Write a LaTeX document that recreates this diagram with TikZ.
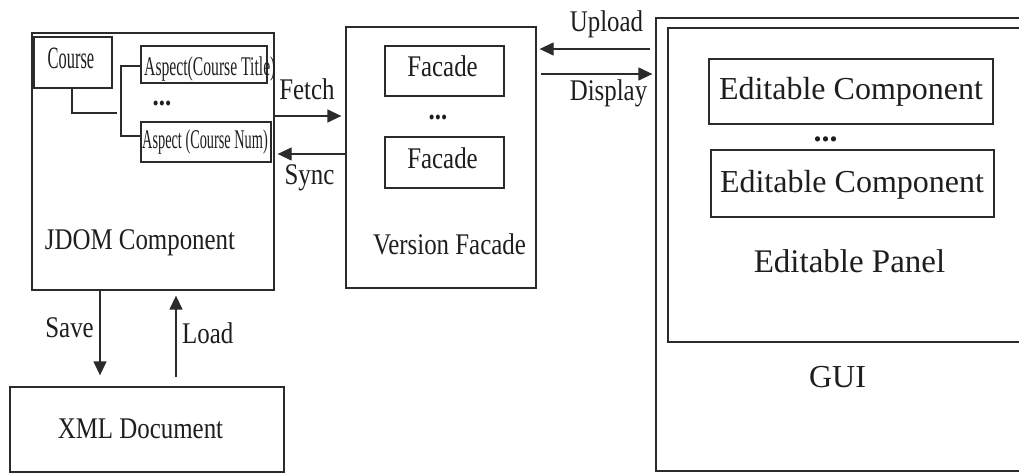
\documentclass[tikz,border=0pt]{standalone}
\usepackage{fontspec}
\setmainfont{Liberation Serif}
\usepackage{graphicx}
\usetikzlibrary{arrows.meta}
\definecolor{ln}{HTML}{2B2B2B}
\definecolor{tx}{HTML}{1E1E1E}
\newcommand\sqz[2]{\scalebox{#1}[1]{#2}}
\begin{document}
\begin{tikzpicture}[x=1pt,y=-1pt,
  box/.style={draw=ln, line width=1.3pt, inner sep=0pt},
  lbl/.style={anchor=base, inner sep=0pt, text=tx, font=\fontsize{30}{36}\selectfont},
  big/.style={lbl, font=\fontsize{32}{38}\selectfont},
  wire/.style={draw=ln, line width=1.3pt},
  arr/.style={wire, -{Triangle[length=14pt 0,width=13pt 0]}}]
\useasboundingbox (0,0) rectangle (1019,474);
\clip (0,0) rectangle (1019,474);
% boxes
\node[box, minimum width=242pt, minimum height=257pt] (jdom) at (153,161.5) {};
\node[box, minimum width=78pt, minimum height=51pt] (course) at (73,62.5) {};
\node[box, minimum width=126pt, minimum height=37pt] (aspT) at (204,64.5) {};
\node[box, minimum width=130pt, minimum height=40pt] (aspN) at (206,142) {};
\node[box, minimum width=190pt, minimum height=261pt] (vf) at (441,157.5) {};
\node[box, minimum width=119pt, minimum height=50pt] (fac1) at (444.5,71) {};
\node[box, minimum width=119pt, minimum height=51pt] (fac2) at (444.5,162.5) {};
\node[box, minimum width=380pt, minimum height=453pt] (gui) at (846,244.5) {};
\node[box, minimum width=370pt, minimum height=314pt] (panel) at (853,185) {};
\node[box, minimum width=284pt, minimum height=65pt] (ec1) at (851,91.5) {};
\node[box, minimum width=283pt, minimum height=67pt] (ec2) at (852.5,183.5) {};
\node[box, minimum width=274pt, minimum height=85pt] (xml) at (147,429.5) {};
% texts
\node[lbl, font=\fontsize{31}{37}\selectfont] (tCourse) at (71,68) {\sqz{0.53}{Course}};
\node[lbl, anchor=base west, font=\fontsize{27}{32}\selectfont] (tAspT) at (144,75) {\sqz{0.58}{Aspect(Course Title)}};
\node[lbl, anchor=base west, font=\fontsize{27}{32}\selectfont] (tAspN) at (142,148) {\sqz{0.53}{Aspect (Course Num)}};
\node[lbl] (dots1) at (162,105) {\sqz{0.83}{\textbf{...}}};
\node[lbl] (tJdom) at (140,249) {\sqz{0.83}{JDOM Component}};
\node[lbl] (tFetch) at (307,99) {\sqz{0.83}{Fetch}};
\node[lbl] (tSync) at (309.5,184) {\sqz{0.83}{Sync}};
\node[lbl] (tFac1) at (442.5,76) {\sqz{0.83}{Facade}};
\node[lbl] (tFac2) at (442.5,168) {\sqz{0.83}{Facade}};
\node[lbl] (dots2) at (438,119) {\sqz{0.83}{\textbf{...}}};
\node[lbl] (tVf) at (449.5,254) {\sqz{0.83}{Version Facade}};
\node[lbl] (tUp) at (606.5,31) {\sqz{0.83}{Upload}};
\node[lbl] (tDisp) at (608.5,100) {\sqz{0.83}{Display}};
\node[big] (tEc1) at (851,99) {Editable Component};
\node[big] (tEc2) at (852,192) {Editable Component};
\node[big] (dots3) at (825.5,141) {\textbf{...}};
\node[lbl, font=\fontsize{33}{39}\selectfont] (tPanel) at (849.5,272) {Editable Panel};
\node[big] (tGui) at (837.5,387) {GUI};
\node[lbl] (tXml) at (140.5,438) {\sqz{0.83}{XML Document}};
\node[lbl, anchor=base east] (tSave) at (94,337) {\sqz{0.83}{Save}};
\node[lbl, anchor=base west] (tLoad) at (182,343) {\sqz{0.83}{Load}};
% tree connectors
\coordinate (cEnd) at (117,113);
\coordinate (bT) at (121,66);
\coordinate (bN) at (121,136);
\draw[wire] (course.south -| 72,0) |- (cEnd);
\draw[wire] (aspT.west |- bT) -- (bT) -- (bN) -- (aspN.west |- bN);
% arrows
\coordinate (fy) at (0,116);
\coordinate (sy) at (0,154);
\coordinate (uy) at (0,49);
\coordinate (dy) at (0,74);
\draw[arr, shorten >=4pt] (jdom.east |- fy) -- (vf.west |- fy);
\draw[arr, shorten >=3pt] (vf.west |- sy) -- (jdom.east |- sy);
\draw[arr, shorten <=5pt, shorten >=3pt] (gui.west |- uy) -- (vf.east |- uy);
\draw[arr, shorten <=4pt, shorten >=3pt] (vf.east |- dy) -- (gui.west |- dy);
\draw[arr, shorten >=11pt] (jdom.south -| 100,0) -- (xml.north -| 100,0);
\draw[arr, shorten <=9pt, shorten >=5pt] (xml.north -| 176,0) -- (jdom.south -| 176,0);
\end{tikzpicture}
\end{document}
